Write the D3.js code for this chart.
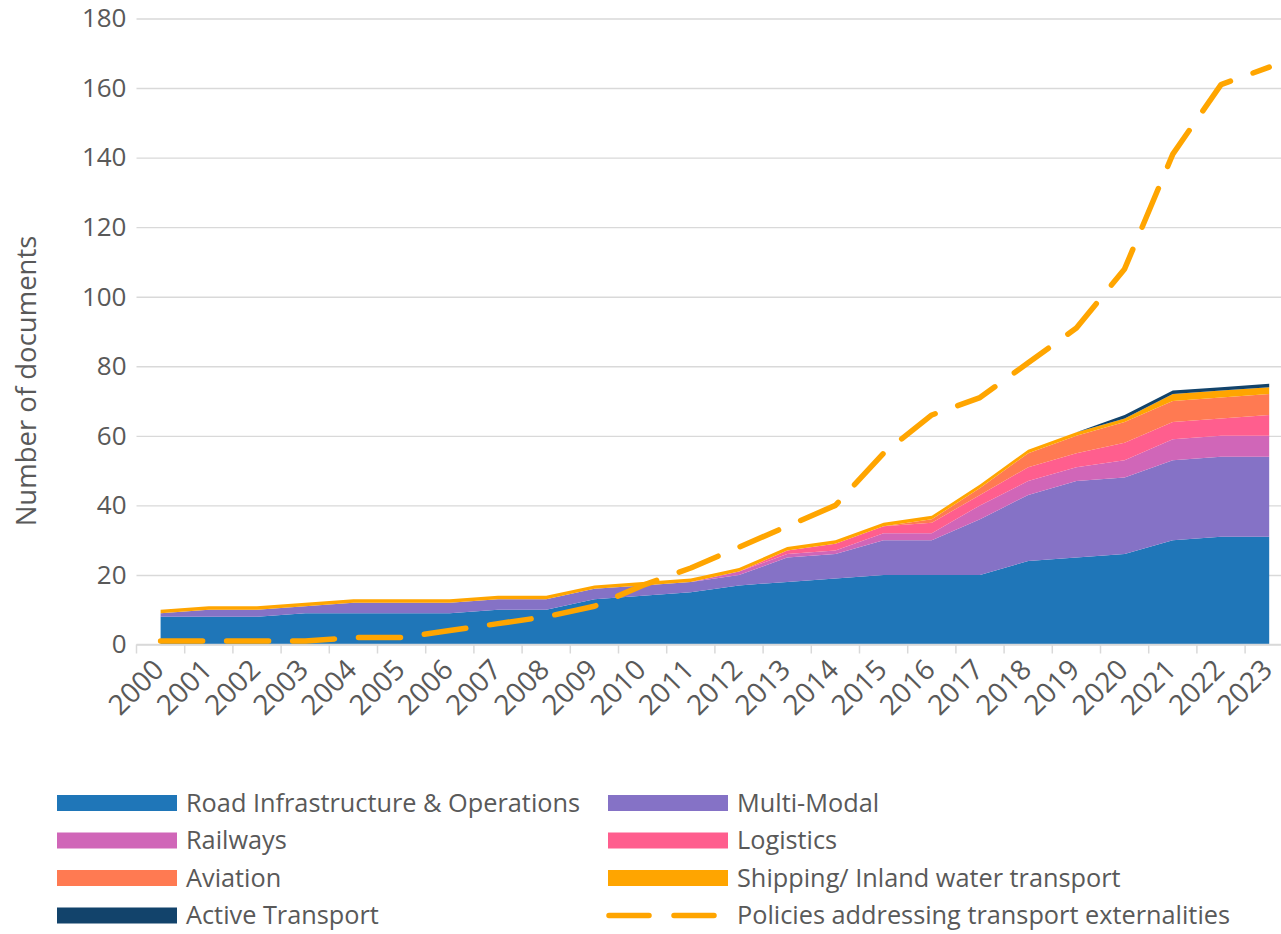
<!DOCTYPE html>
<html>
<head>
<meta charset="utf-8">
<script src="https://cdn.jsdelivr.net/npm/d3@7"></script>
<style>
  html, body { margin: 0; padding: 0; background: #fff; }
  svg { display: block; }
  text { font-family: "Open Sans", "Noto Sans", sans-serif; fill: #595959; }
</style>
</head>
<body>
<svg id="chart" width="1281" height="934"></svg>
<script>
// ---------- data ----------
const years = ["2000","2001","2002","2003","2004","2005","2006","2007","2008","2009","2010","2011",
               "2012","2013","2014","2015","2016","2017","2018","2019","2020","2021","2022","2023"];
const roadInfrastructure = [8,8,8,9,9,9,9,10,10,13,14,15,17,18,19,20,20,20,24,25,26,30,31,31];
const multiModal         = [1,2,2,2,3,3,3,3,3,3,3,3,3,7,7,10,10,16,19,22,22,23,23,23];
const railways           = [0,0,0,0,0,0,0,0,0,0,0,0,1,1,1,2,2,4,4,4,5,6,6,6];
const logistics          = [0,0,0,0,0,0,0,0,0,0,0,0,0,1,2,2,3,3,4,4,5,5,5,6];
const aviation           = [0,0,0,0,0,0,0,0,0,0,0,0,0,0,0,0,1,2,4,5,6,6,6,6];
const shipping           = [1,1,1,1,1,1,1,1,1,1,1,1,1,1,1,1,1,1,1,1,1,2,2,2];
const activeTransport    = [0,0,0,0,0,0,0,0,0,0,0,0,0,0,0,0,0,0,0,0,1,1,1,1];
const policiesExternalities = [1,1,1,1,2,2,4,6,8,11,17,22,28,34,40,55,66,71,81,91,108,141,161,166];
const yTicks = [0,20,40,60,80,100,120,140,160,180];

const seriesNames = ["Road Infrastructure & Operations","Multi-Modal","Railways","Logistics",
                     "Aviation","Shipping/ Inland water transport","Active Transport"];
const seriesValues = [roadInfrastructure, multiModal, railways, logistics, aviation, shipping, activeTransport];
const seriesColors = ["#1F76B8","#8572C6","#D066B8","#FF5E8E","#FF7A52","#FFA500","#12436B"];
const lineName = "Policies addressing transport externalities";
const lineColor = "#FFA500";

// ---------- layout ----------
const W = 1281, H = 934;
const plotLeft = 136.5, band = 48.2;
const plotRight = plotLeft + band * years.length;
const y0 = 644.5, yTop = 18.5;

const svg = d3.select("#chart");

const x = d3.scaleBand().domain(years).range([plotLeft, plotRight]).padding(0);
const cx = d => x(d) + x.bandwidth() / 2;
const y = d3.scaleLinear().domain([0, 180]).range([y0, yTop]);

// gridlines + y labels
const yAxis = d3.axisLeft(y).tickValues(yTicks).tickSize(-(W - plotLeft)).tickPadding(10);
const gy = svg.append("g").attr("transform", `translate(${plotLeft},0)`).call(yAxis);
gy.select(".domain").remove();
gy.selectAll(".tick line").attr("stroke", "#d9d9d9").attr("stroke-width", 1.4);
gy.selectAll(".tick text").attr("font-size", 26).attr("fill", "#595959")
  .attr("font-family", "'Open Sans', sans-serif");

// stacked areas
const table = years.map((yr, i) => {
  const row = { year: yr };
  seriesNames.forEach((n, k) => row[n] = seriesValues[k][i]);
  return row;
});
const stack = d3.stack().keys(seriesNames);
const layers = stack(table);
const area = d3.area()
  .x(d => cx(d.data.year))
  .y0(d => y(d[0]))
  .y1(d => y(d[1]));
svg.append("g").selectAll("path").data(layers).join("path")
  .attr("d", area)
  .attr("fill", (d, i) => seriesColors[i]);

// x axis line + ticks between categories
const gx = svg.append("g");
gx.append("line").attr("x1", plotLeft).attr("x2", W).attr("y1", y0).attr("y2", y0)
  .attr("stroke", "#d9d9d9").attr("stroke-width", 1.5);
const tickPos = years.map(d => x(d)).concat([plotRight]);
gx.selectAll("line.tk").data(tickPos).join("line").attr("class", "tk")
  .attr("x1", d => d).attr("x2", d => d).attr("y1", y0).attr("y2", y0 + 9)
  .attr("stroke", "#d9d9d9").attr("stroke-width", 1.5);
gx.selectAll("text.xl").data(years).join("text").attr("class", "xl")
  .attr("transform", d => `translate(${cx(d) + 5},${y0 + 27}) rotate(-45)`)
  .attr("text-anchor", "end")
  .attr("font-size", 28)
  .text(d => d);

// policies dashed line
const line = d3.line().x((d, i) => cx(years[i])).y(d => y(d));
svg.append("path").datum(policiesExternalities)
  .attr("d", line)
  .attr("fill", "none")
  .attr("stroke", lineColor)
  .attr("stroke-width", 5.5)
  .attr("stroke-dasharray", "42,24")
  .attr("stroke-linecap", "round")
  .attr("stroke-linejoin", "round");

// y axis title
svg.append("text")
  .attr("transform", `translate(36,381) rotate(-90)`)
  .attr("text-anchor", "middle")
  .attr("font-size", 27.5)
  .text("Number of documents");

// legend
const legendItems = [
  { name: seriesNames[0], color: seriesColors[0], type: "rect" },
  { name: seriesNames[1], color: seriesColors[1], type: "rect" },
  { name: seriesNames[2], color: seriesColors[2], type: "rect" },
  { name: seriesNames[3], color: seriesColors[3], type: "rect" },
  { name: seriesNames[4], color: seriesColors[4], type: "rect" },
  { name: seriesNames[5], color: seriesColors[5], type: "rect" },
  { name: seriesNames[6], color: seriesColors[6], type: "rect" },
  { name: lineName, color: lineColor, type: "line" }
];
const colX = [57, 608], rowY = [803, 840.5, 878, 915.5];
const lg = svg.append("g");
const items = lg.selectAll("g").data(legendItems).join("g")
  .attr("transform", (d, i) => `translate(${colX[i % 2]},${rowY[Math.floor(i / 2)]})`);
items.filter(d => d.type === "rect").append("rect")
  .attr("x", 0).attr("y", -8).attr("width", 120).attr("height", 16)
  .attr("fill", d => d.color);
items.filter(d => d.type === "line").append("line")
  .attr("x1", 1).attr("x2", 118).attr("y1", 0).attr("y2", 0)
  .attr("stroke", d => d.color).attr("stroke-width", 5.5)
  .attr("stroke-dasharray", "40,25").attr("stroke-linecap", "round");
const ltext = items.append("text")
  .attr("x", 129).attr("y", 0).attr("dy", "0.35em")
  .attr("font-size", 25.3)
  .text(d => d.name);
</script>
</body>
</html>
